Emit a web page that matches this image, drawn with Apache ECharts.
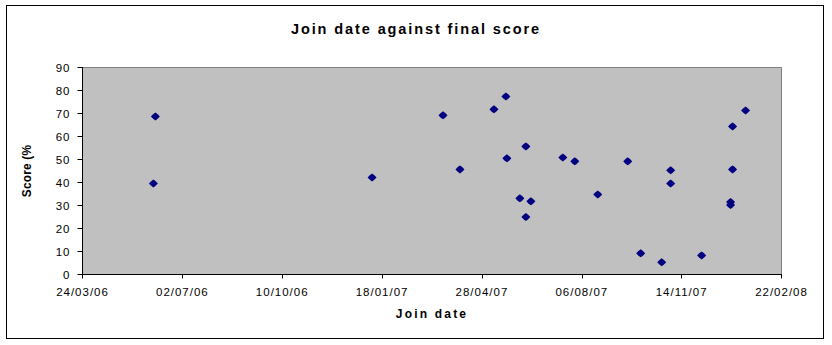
<!DOCTYPE html>
<html>
<head>
<meta charset="utf-8">
<script src="https://cdn.jsdelivr.net/npm/echarts@6/dist/echarts.min.js"></script>
<style>
  html, body { margin: 0; padding: 0; background: #fff; }
  #frame { position: absolute; left: 6px; top: 5px; width: 816px; height: 332px; border: 1px solid #000; box-sizing: content-box; }
  #chart { position: absolute; left: 0; top: 0; width: 832px; height: 345px; }
  #chart svg text { letter-spacing: 1px; }
  #chart svg text[style*="bold"] { letter-spacing: 2.2px; }
  #chart svg text[style*="14.5px"] { letter-spacing: 1.9px; }
  #chart svg text[style*="11.9px"] { letter-spacing: 0.2px; }
</style>
</head>
<body>
<div id="frame"></div>
<div id="chart"></div>
<script>
// ---- data ----
var joinDates = [
  '2006-06-03', '2006-06-05', '2007-01-08', '2007-03-20', '2007-04-06',
  '2007-05-10', '2007-05-22', '2007-05-23', '2007-06-05', '2007-06-11',
  '2007-06-11', '2007-06-16', '2007-07-18', '2007-07-30', '2007-08-22',
  '2007-09-21', '2007-10-04', '2007-10-25', '2007-11-03', '2007-11-03',
  '2007-12-04', '2008-01-02', '2008-01-02', '2008-01-04', '2008-01-04',
  '2008-01-17'
];
var scores = [
  39.6, 68.7, 42.2, 69.2, 45.7,
  71.8, 77.4, 50.5, 33.1, 55.7,
  25.0, 31.8, 50.9, 49.2, 34.8,
  49.2, 9.2, 5.3, 45.3, 39.6,
  8.3, 31.5, 30.2, 64.4, 45.7,
  71.3
];
var axisStartDate = '2006-03-24';
var axisEndDate = '2008-02-22';
var tickStepDays = 100;
var yTicks = [0, 10, 20, 30, 40, 50, 60, 70, 80, 90];
var titleText = 'Join date against final score';
var xTitle = 'Join date';
var yTitle = 'Score (%';

// ---- helpers ----
var DAY = 86400000;
function toMs(s) { var p = s.split('-'); return Date.UTC(+p[0], +p[1] - 1, +p[2]); }
var baseMs = toMs(axisStartDate);
function dayOffset(s) { return Math.round((toMs(s) - baseMs) / DAY); }
function pad(n) { return (n < 10 ? '0' : '') + n; }
function fmtDay(v) {
  var d = new Date(baseMs + v * DAY);
  return pad(d.getUTCDate()) + '/' + pad(d.getUTCMonth() + 1) + '/' + pad(d.getUTCFullYear() % 100);
}

var points = joinDates.map(function (d, i) { return [dayOffset(d), scores[i]]; });

var chart = echarts.init(document.getElementById('chart'), null, { renderer: 'svg' });
var FONT = 'Liberation Sans, Arial, sans-serif';
var labelFont = { color: '#000', fontFamily: FONT, fontSize: 11.5 };

chart.setOption({
  backgroundColor: 'transparent',
  animation: false,
  title: {
    text: titleText,
    left: 'center',
    top: 16,
    textStyle: { fontFamily: FONT, fontWeight: 'bold', fontSize: 14.5, color: '#000' }
  },
  grid: {
    left: 82.5, right: 50.5, top: 67.5, bottom: 70.5,
    show: true, backgroundColor: '#C0C0C0', borderColor: '#808080', borderWidth: 1
  },
  xAxis: {
    type: 'value',
    min: 0,
    max: dayOffset(axisEndDate),
    interval: tickStepDays,
    name: xTitle,
    nameLocation: 'middle',
    nameGap: 33,
    nameTextStyle: { fontFamily: FONT, fontWeight: 'bold', fontSize: 12, color: '#000' },
    axisLine: { show: true, onZero: false, lineStyle: { color: '#000', width: 1 } },
    axisTick: { show: true, inside: false, length: 4, lineStyle: { color: '#000' } },
    axisLabel: Object.assign({ margin: 11, formatter: fmtDay, showMinLabel: true, showMaxLabel: true, hideOverlap: false }, labelFont),
    splitLine: { show: false }
  },
  yAxis: {
    type: 'value',
    min: yTicks[0],
    max: yTicks[yTicks.length - 1],
    interval: yTicks[1] - yTicks[0],
    name: yTitle,
    nameLocation: 'middle',
    nameGap: 50,
    nameRotate: 90,
    nameTextStyle: { fontFamily: FONT, fontWeight: 'bold', fontSize: 11.9, color: '#000' },
    axisLine: { show: true, onZero: false, lineStyle: { color: '#000', width: 1 } },
    axisTick: { show: true, inside: false, length: 5, lineStyle: { color: '#000' } },
    axisLabel: Object.assign({ margin: 12 }, labelFont),
    splitLine: { show: false }
  },
  series: [{
    type: 'scatter',
    data: points,
    symbol: 'path://M4,0 L6,1.5 L8,3.5 L6,5.5 L4,7 L2,5.5 L0,3.5 L2,1.5 Z',
    symbolSize: [9, 8],
    itemStyle: { color: '#000080', opacity: 1 },
    emphasis: { disabled: true }
  }]
});
</script>
</body>
</html>
